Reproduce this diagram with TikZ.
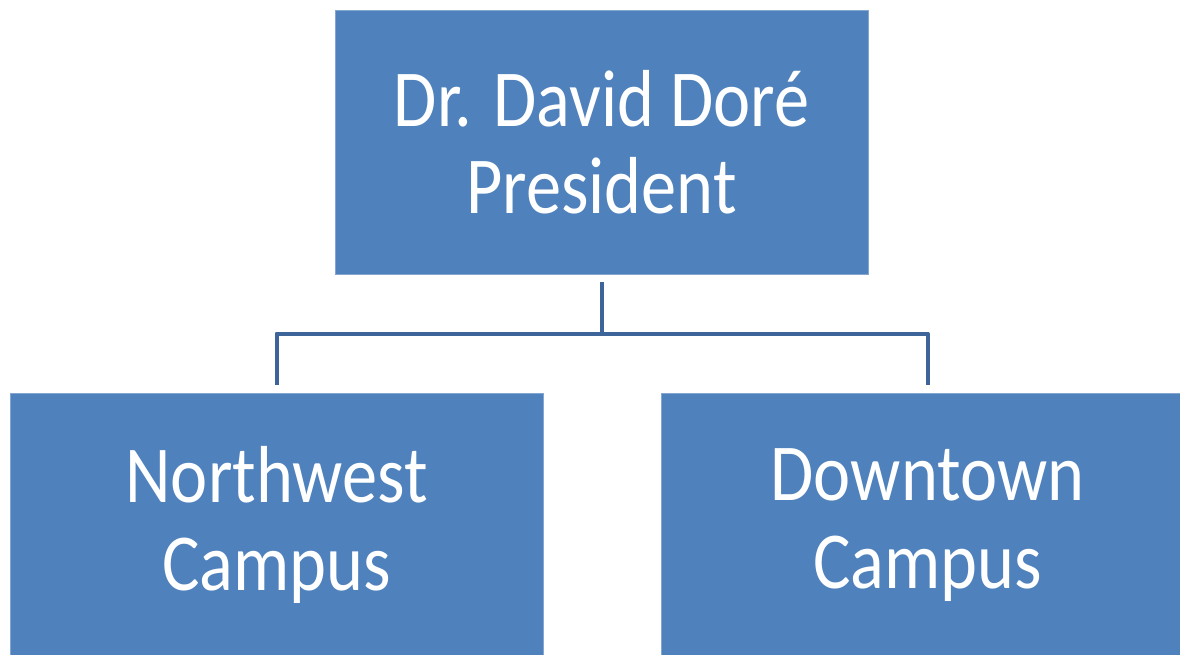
\documentclass[tikz,border=0pt]{standalone}
\usepackage{fontspec}
\setmainfont{Carlito}[FakeStretch=0.87]
\definecolor{boxblue}{HTML}{4F81BD}
\definecolor{lineblue}{HTML}{3E6599}
\tikzset{
  orgbox/.style={fill=boxblue, draw=boxblue!70!white, line width=0.4pt, inner sep=0pt,
    minimum width=13.325cm, minimum height=6.6cm, align=center, text=white,
    font=\fontsize{57.5}{62}\selectfont},
  link/.style={draw=lineblue, line width=0.1cm, line join=round,
    shorten <=0.2cm, shorten >=0.2cm}
}
\begin{document}
\begin{tikzpicture}[x=0.025cm, y=-0.025cm]
\useasboundingbox (0,0) rectangle (1180,654);
% boxes
\node[orgbox] (pres) at (601.5,142) {Dr. David Dor\'e\\President};
\node[orgbox] (nw) at (276.5,525) {Northwest\\Campus};
\node[orgbox] (dt) at (927.5,525) {Downtown\\Campus};
% connectors
\draw[link] (pres.south) |- (276.5,333.5) -- (nw.north);
\draw[link] (pres.south) |- (927.5,333.5) -- (dt.north);
\end{tikzpicture}
\end{document}
